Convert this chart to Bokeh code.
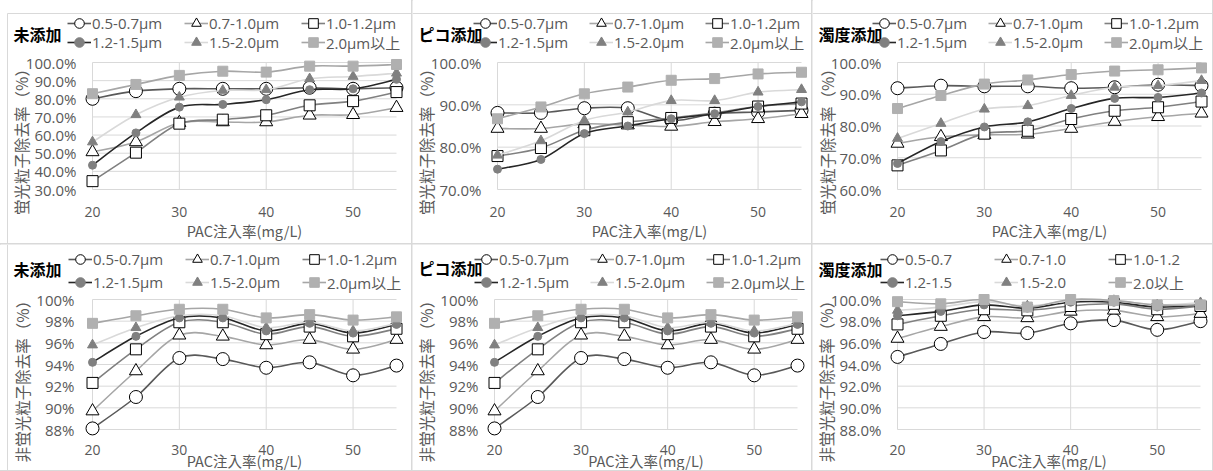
import numpy as np
from bokeh.plotting import figure
from bokeh.layouts import gridplot
from bokeh.models import Range1d, FixedTicker, PrintfTickFormatter, Legend, LegendItem, Label
from bokeh.embed import file_html
from bokeh.resources import INLINE

# ---------------- data ----------------
PAC = [20, 25, 30, 35, 40, 45, 50, 55]
X_TICKS = [20, 30, 40, 50]
LABELS_UM = ["0.5-0.7μm", "0.7-1.0μm", "1.0-1.2μm", "1.2-1.5μm", "1.5-2.0μm", "2.0μm以上"]
LABELS_PLAIN = ["0.5-0.7", "0.7-1.0", "1.0-1.2", "1.2-1.5", "1.5-2.0", "2.0以上"]
TITLES = ["未添加", "ピコ添加", "濁度添加"]
Y_TITLE_FL = "蛍光粒子除去率（%）"
Y_TITLE_NF = "非蛍光粒子除去率（%）"
X_TITLE = "PAC注入率(mg/L)"

# fluorescent particle removal (%), top row
fl_none_05_07 = [80.0, 84.2, 85.5, 85.5, 85.5, 86.1, 85.5, 86.1]
fl_none_07_10 = [50.7, 56.2, 66.8, 67.2, 67.2, 70.9, 71.2, 75.1]
fl_none_10_12 = [34.6, 50.3, 66.3, 68.5, 70.9, 76.4, 78.7, 83.7]
fl_none_12_15 = [43.4, 61.2, 75.4, 76.9, 79.5, 85.0, 85.5, 90.7]
fl_none_15_20 = [56.2, 71.2, 80.9, 84.6, 85.0, 91.0, 92.3, 94.1]
fl_none_20_up = [82.8, 87.9, 92.9, 95.2, 94.7, 98.0, 98.0, 98.9]

fl_pico_05_07 = [88.1, 88.1, 89.2, 89.2, 86.3, 87.9, 88.3, 88.7]
fl_pico_07_10 = [84.4, 84.4, 85.5, 85.2, 84.9, 86.0, 86.7, 87.9]
fl_pico_10_12 = [77.9, 79.8, 84.0, 85.9, 86.9, 88.1, 89.6, 90.3]
fl_pico_12_15 = [74.8, 77.1, 83.2, 85.0, 86.7, 87.9, 89.6, 90.7]
fl_pico_15_20 = [78.1, 81.5, 86.3, 88.3, 91.0, 91.0, 93.0, 93.6]
fl_pico_20_up = [86.7, 89.5, 92.6, 94.2, 95.8, 96.2, 97.3, 97.7]

fl_turb_05_07 = [91.9, 92.7, 92.5, 92.5, 91.9, 92.2, 93.0, 92.7]
fl_turb_07_10 = [74.5, 76.6, 77.2, 77.4, 79.2, 81.4, 82.9, 84.0]
fl_turb_10_12 = [67.6, 72.3, 77.6, 78.5, 82.2, 84.8, 85.9, 87.7]
fl_turb_12_15 = [68.2, 75.1, 79.7, 81.3, 85.5, 88.7, 89.0, 90.4]
fl_turb_15_20 = [76.1, 80.8, 85.3, 86.4, 89.6, 92.2, 92.7, 94.3]
fl_turb_20_up = [85.5, 89.6, 93.2, 94.5, 96.2, 97.3, 97.7, 98.3]

# non-fluorescent particle removal (%), bottom row
nf_none_05_07 = [88.1, 91.0, 94.6, 94.5, 93.7, 94.2, 93.0, 93.9]
nf_none_07_10 = [89.7, 93.4, 96.7, 96.6, 95.8, 96.3, 95.4, 96.3]
nf_none_10_12 = [92.3, 95.4, 97.9, 97.9, 96.8, 97.5, 96.6, 97.3]
nf_none_12_15 = [94.2, 96.6, 98.3, 98.3, 97.1, 97.8, 96.9, 97.7]
nf_none_15_20 = [95.8, 97.4, 98.5, 98.5, 97.4, 97.9, 97.1, 97.8]
nf_none_20_up = [97.8, 98.5, 99.1, 99.1, 98.3, 98.6, 98.1, 98.4]

nf_pico_05_07 = [88.1, 91.0, 94.6, 94.5, 93.7, 94.2, 93.0, 93.9]
nf_pico_07_10 = [89.7, 93.4, 96.7, 96.6, 95.8, 96.3, 95.4, 96.3]
nf_pico_10_12 = [92.3, 95.4, 97.9, 97.9, 96.8, 97.5, 96.6, 97.3]
nf_pico_12_15 = [94.2, 96.6, 98.3, 98.3, 97.1, 97.8, 96.9, 97.7]
nf_pico_15_20 = [95.8, 97.4, 98.5, 98.5, 97.4, 97.9, 97.1, 97.8]
nf_pico_20_up = [97.8, 98.5, 99.1, 99.1, 98.3, 98.6, 98.1, 98.4]

nf_turb_05_07 = [94.7, 95.9, 97.0, 96.9, 97.8, 98.1, 97.2, 98.0]
nf_turb_07_10 = [96.4, 97.5, 98.4, 98.3, 98.9, 99.0, 98.4, 98.7]
nf_turb_10_12 = [97.7, 98.5, 99.1, 99.0, 99.4, 99.6, 99.1, 99.4]
nf_turb_12_15 = [98.5, 98.9, 99.5, 99.2, 99.75, 99.75, 99.3, 99.5]
nf_turb_15_20 = [99.0, 99.3, 99.8, 99.4, 99.9, 99.9, 99.5, 99.7]
nf_turb_20_up = [99.8, 99.6, 100.0, 99.3, 100.0, 99.9, 99.5, 99.5]

# ---------------- styles ----------------
FONT_CJK = "Noto Sans CJK JP"
FONT_TXT = "'Open Sans', 'Noto Sans CJK JP'"
GRAY_TXT = "#595959"
GRID = "#d9d9d9"

STYLES = [
    dict(line="#595959", marker="circle", size=13, fill="#ffffff", edge="#000000"),
    dict(line="#a6a6a6", marker="triangle", size=13, fill="#ffffff", edge="#000000"),
    dict(line="#808080", marker="square", size=11, fill="#ffffff", edge="#000000"),
    dict(line="#262626", marker="circle", size=8, fill="#808080", edge="#808080"),
    dict(line="#d9d9d9", marker="triangle", size=10, fill="#808080", edge="#808080"),
    dict(line="#a6a6a6", marker="square", size=10, fill="#b0b0b0", edge="#b0b0b0"),
]


def bezier_parts(xs, ys):
    n = len(xs)
    d = dict(x0=[], y0=[], x1=[], y1=[], cx0=[], cy0=[], cx1=[], cy1=[])
    for i in range(n - 1):
        xa, ya = (xs[i - 1], ys[i - 1]) if i > 0 else (xs[i], ys[i])
        xb, yb = xs[i], ys[i]
        xc, yc = xs[i + 1], ys[i + 1]
        xd, yd = (xs[i + 2], ys[i + 2]) if i + 2 < n else (xc, yc)
        d["x0"].append(xb); d["y0"].append(yb)
        d["x1"].append(xc); d["y1"].append(yc)
        d["cx0"].append(xb + (xc - xa) / 6.0); d["cy0"].append(yb + (yc - ya) / 6.0)
        d["cx1"].append(xc - (xd - xb) / 6.0); d["cy1"].append(yc - (yd - yb) / 6.0)
    return d


def make_panel(cfg, series, labels):
    dl, dr, dt, db = cfg["data"]          # pixel box of the data area inside the figure
    fw, fh = cfg["size"]
    ylo, yhi = cfg["ylim"]
    xpp = (55 - 20) / (dr - dl)
    ypp = (yhi - ylo) / (db - dt)
    p = figure(width=fw, height=fh,
               x_range=Range1d(20 - dl * xpp, 20 + (fw - dl) * xpp),
               y_range=Range1d(ylo - (fh - db) * ypp, yhi + dt * ypp),
               min_border_left=0, min_border_right=0, min_border_top=0, min_border_bottom=0,
               output_backend="svg", toolbar_location=None, title=None)
    p.outline_line_color = None
    p.xgrid.visible = False
    p.ygrid.visible = False
    p.background_fill_color = "#ffffff"
    p.border_fill_color = "#ffffff"

    def px(x_local):
        return 20 + (x_local - dl) * xpp

    def py(y_local):
        return yhi + (dt - y_local) * ypp

    # chart-area border (top / left edges of the outer frame)
    bx, by = cfg["border"]
    if by is not None:
        p.segment(x0=[px(bx if bx is not None else 0)], y0=[py(by)], x1=[px(fw)], y1=[py(by)],
                  line_color=GRID, line_width=1)
    if bx is not None:
        p.segment(x0=[px(bx)], y0=[py(by if by is not None else 0)], x1=[px(bx)], y1=[py(fh)],
                  line_color=GRID, line_width=1)

    for ax, ticks, stand, fs in ((p.xaxis, X_TICKS, cfg["xtick_c"] - 5 - fh, "14px"),
                                 (p.yaxis, cfg["yticks"], -cfg["ytick_r"], "15px")):
        ax.ticker = FixedTicker(ticks=ticks)
        ax.axis_line_color = None
        ax.major_tick_line_color = None
        ax.minor_tick_line_color = None
        ax.major_tick_out = 0
        ax.major_tick_in = 0
        ax.major_label_standoff = int(stand)
        ax.major_label_text_font = FONT_TXT
        ax.major_label_text_font_size = fs
        ax.major_label_text_color = GRAY_TXT
    p.yaxis.formatter = PrintfTickFormatter(format=cfg["yfmt"])

    yt = cfg["yticks"]
    p.segment(x0=X_TICKS, y0=[ylo] * len(X_TICKS), x1=X_TICKS, y1=[yhi] * len(X_TICKS),
              line_color=GRID, line_width=1)
    p.segment(x0=[20] * len(yt), y0=yt, x1=[55] * len(yt), y1=yt, line_color=GRID, line_width=1)

    items = []
    for vals, st, lab in zip(series, STYLES, labels):
        p.bezier(line_color=st["line"], line_width=1.6, **bezier_parts(PAC, vals))
        p.scatter(PAC, vals, marker=st["marker"], size=st["size"], fill_color=st["fill"],
                  line_color=st["edge"], line_width=1)
        # legend proxies (no visible data point)
        lp = p.line(x=np.array([np.nan]), y=np.array([np.nan]), line_color=st["line"], line_width=1.6)
        sp = p.scatter(x=np.array([np.nan]), y=np.array([np.nan]), marker=st["marker"],
                       fill_color=st["fill"], line_color=st["edge"], line_width=1)
        items.append(LegendItem(label=lab, renderers=[lp, sp]))

    gw, gh = 24, 26
    for row_items, cy in zip((items[:3], items[3:]), cfg["leg_rows"]):
        ly = (fh - cy) - gh / 2.0
        leg = Legend(items=row_items, orientation="horizontal", location=(cfg["leg_x"], ly),
                     glyph_width=gw, glyph_height=gh, label_standoff=1,
                     label_width=cfg["leg_lw"], spacing=10, padding=0, margin=0,
                     border_line_color=None, background_fill_alpha=0,
                     label_text_font=FONT_TXT, label_text_font_size="15px",
                     label_text_color=GRAY_TXT, label_text_baseline="middle")
        p.add_layout(leg)

    tx, ty = cfg["title_pos"]
    p.add_layout(Label(x=px(tx), y=py(ty), text=cfg["title"],
                       text_font=FONT_CJK, text_font_size="16px", text_font_style="bold",
                       text_color="#000000", text_align="left", text_baseline="middle"))
    yx, yy = cfg["ytitle_pos"]
    p.add_layout(Label(x=px(yx), y=py(yy), text=cfg["ytitle"], angle=90, angle_units="deg",
                       text_font=FONT_CJK, text_font_size="15.5px",
                       text_color=GRAY_TXT, text_align="center", text_baseline="middle"))
    p.add_layout(Label(x=px((dl + dr) / 2.0), y=py(cfg["xtitle_y"]), text=X_TITLE,
                       text_font=FONT_CJK, text_font_size="14.5px",
                       text_color=GRAY_TXT, text_align="center", text_baseline="middle"))
    p.styles = {"outline": "1px solid #d9d9d9"}
    return p


TOP = dict(leg_rows=(23, 42), xtick_c=211, xtitle_y=230)
BOT = dict(leg_rows=(15, 38), xtick_c=205, xtitle_y=216)

cfgs = [
    dict(size=(412, 244), data=(92, 396, 62, 189), ylim=(30, 100), yticks=[30, 40, 50, 60, 70, 80, 90, 100],
         yfmt="%.1f%%", ytick_r=76, title=TITLES[0], title_pos=(13, 33), ytitle=Y_TITLE_FL,
         ytitle_pos=(20.7, 137.5), leg_x=67, leg_lw=82, border=(7, 13), **TOP),
    dict(size=(400, 244), data=(85, 389, 62, 189), ylim=(70, 100), yticks=[70, 80, 90, 100],
         yfmt="%.1f%%", ytick_r=69, title=TITLES[1], title_pos=(6, 33), ytitle=Y_TITLE_FL,
         ytitle_pos=(13.7, 137.5), leg_x=61, leg_lw=81, border=(None, 13), **TOP),
    dict(size=(400, 244), data=(85, 389, 62, 189), ylim=(60, 100), yticks=[60, 70, 80, 90, 100],
         yfmt="%.1f%%", ytick_r=69, title=TITLES[2], title_pos=(6, 33), ytitle=Y_TITLE_FL,
         ytitle_pos=(14.7, 137.5), leg_x=60, leg_lw=81, border=(None, 13), **TOP),
    dict(size=(412, 226), data=(92, 396, 55, 185), ylim=(88, 100), yticks=[88, 90, 92, 94, 96, 98, 100],
         yfmt="%d%%", ytick_r=74, title=TITLES[0], title_pos=(13, 24), ytitle=Y_TITLE_NF,
         ytitle_pos=(21.7, 133), leg_x=68, leg_lw=82, border=(7, None), **BOT),
    dict(size=(400, 226), data=(82, 385, 55, 185), ylim=(88, 100), yticks=[88, 90, 92, 94, 96, 98, 100],
         yfmt="%d%%", ytick_r=66, title=TITLES[1], title_pos=(6, 23), ytitle=Y_TITLE_NF,
         ytitle_pos=(13.7, 133), leg_x=62, leg_lw=81, border=(None, None), **BOT),
    dict(size=(400, 226), data=(85, 388, 55, 185), ylim=(88, 100), yticks=[88, 90, 92, 94, 96, 98, 100],
         yfmt="%.1f%%", ytick_r=69, title=TITLES[2], title_pos=(6, 24), ytitle=Y_TITLE_NF,
         ytitle_pos=(13.7, 133), leg_x=68, leg_lw=79, border=(None, None), **BOT),
]

panel_series = [
    [fl_none_05_07, fl_none_07_10, fl_none_10_12, fl_none_12_15, fl_none_15_20, fl_none_20_up],
    [fl_pico_05_07, fl_pico_07_10, fl_pico_10_12, fl_pico_12_15, fl_pico_15_20, fl_pico_20_up],
    [fl_turb_05_07, fl_turb_07_10, fl_turb_10_12, fl_turb_12_15, fl_turb_15_20, fl_turb_20_up],
    [nf_none_05_07, nf_none_07_10, nf_none_10_12, nf_none_12_15, nf_none_15_20, nf_none_20_up],
    [nf_pico_05_07, nf_pico_07_10, nf_pico_10_12, nf_pico_12_15, nf_pico_15_20, nf_pico_20_up],
    [nf_turb_05_07, nf_turb_07_10, nf_turb_10_12, nf_turb_12_15, nf_turb_15_20, nf_turb_20_up],
]
panel_labels = [LABELS_UM] * 5 + [LABELS_PLAIN]

plots = [make_panel(c, s, l) for c, s, l in zip(cfgs, panel_series, panel_labels)]
grid = gridplot([plots[:3], plots[3:]], toolbar_location=None)

open("out.html", "w").write(file_html(grid, INLINE))
